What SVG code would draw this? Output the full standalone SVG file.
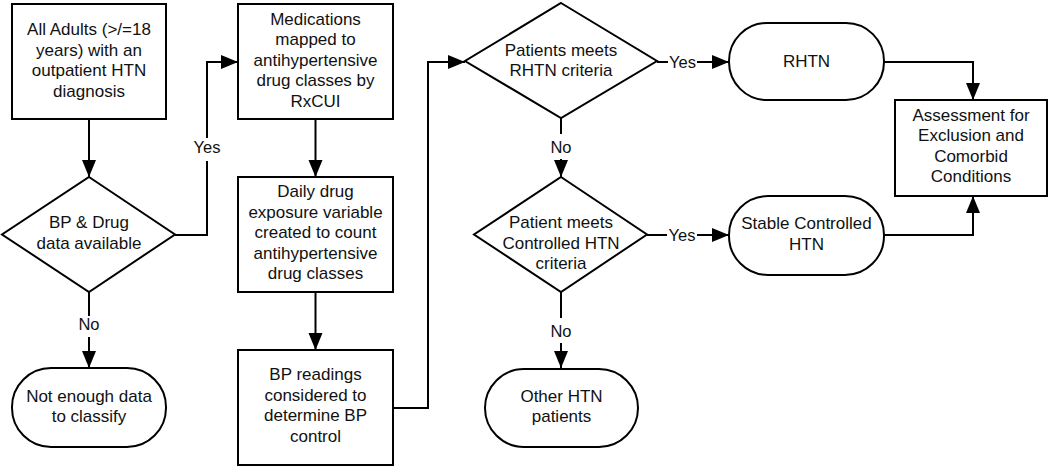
<svg xmlns="http://www.w3.org/2000/svg" width="1050" height="467" viewBox="0 0 1050 467">
<defs>
<style>
.n{fill:#fff;stroke:#000;stroke-width:2}
.t{font-family:"Liberation Sans",Arial,sans-serif;font-size:17px;fill:#111;text-anchor:middle}
.l{font-family:"Liberation Sans",Arial,sans-serif;font-size:16.5px;fill:#111;text-anchor:middle}
.c{fill:none;stroke:#000;stroke-width:2}
.bg{fill:#fff}
</style>
<marker id="ah" markerUnits="userSpaceOnUse" markerWidth="18" markerHeight="15" refX="17" refY="7" orient="auto">
<path d="M0,0 L17,7 L0,14 z" fill="#000"/>
</marker>
</defs>
<rect width="1050" height="467" fill="#fff"/>

<g id="connectors">
<path class="c" d="M89,119 V177" marker-end="url(#ah)"/>
<path class="c" d="M175,235 H207 V62 H238" marker-end="url(#ah)"/>
<path class="c" d="M89,292 V368" marker-end="url(#ah)"/>
<path class="c" d="M315.5,119 V177" marker-end="url(#ah)"/>
<path class="c" d="M315.5,292 V350" marker-end="url(#ah)"/>
<path class="c" d="M393,408 H428 V62 H465" marker-end="url(#ah)"/>
<path class="c" d="M657,62 H729" marker-end="url(#ah)"/>
<path class="c" d="M561,118 V177" marker-end="url(#ah)"/>
<path class="c" d="M647,235 H729" marker-end="url(#ah)"/>
<path class="c" d="M561,292 V368" marker-end="url(#ah)"/>
<path class="c" d="M884,62 H973 V100" marker-end="url(#ah)"/>
<path class="c" d="M884,235 H973 V196" marker-end="url(#ah)"/>
<rect class="bg" x="193" y="138" width="28" height="23"/>
<text class="l" x="207" y="153">Yes</text>
<rect class="bg" x="78" y="316" width="22" height="21"/>
<text class="l" x="89" y="330">No</text>
<rect class="bg" x="668" y="54" width="29" height="17"/>
<text class="l" x="682.5" y="68">Yes</text>
<rect class="bg" x="550" y="134" width="22" height="25"/>
<text class="l" x="561" y="153">No</text>
<rect class="bg" x="667" y="227" width="30" height="17"/>
<text class="l" x="682" y="241">Yes</text>
<rect class="bg" x="550" y="318" width="22" height="25"/>
<text class="l" x="561" y="337">No</text>
</g>

<g id="n1">
<rect class="n" x="12" y="4" width="154" height="115"/>
<text class="t" x="89" y="35">All Adults (&gt;/=18</text>
<text class="t" x="89" y="55.5">years) with an</text>
<text class="t" x="89" y="76">outpatient HTN</text>
<text class="t" x="89" y="96.5">diagnosis</text>
</g>

<g id="n2">
<polygon class="n" points="89,177 175,234.5 89,292 2,234.5"/>
<text class="t" x="89" y="228">BP &amp; Drug</text>
<text class="t" x="89" y="248.5">data available</text>
</g>

<g id="n3">
<rect class="n" x="12" y="368" width="154" height="79" rx="39" ry="39"/>
<text class="t" x="89" y="402">Not enough data</text>
<text class="t" x="89" y="422">to classify</text>
</g>

<g id="n4">
<rect class="n" x="238" y="4" width="155" height="115"/>
<text class="t" x="315.5" y="24.5">Medications</text>
<text class="t" x="315.5" y="45">mapped to</text>
<text class="t" x="315.5" y="65.5">antihypertensive</text>
<text class="t" x="315.5" y="86">drug classes by</text>
<text class="t" x="315.5" y="106.5">RxCUI</text>
</g>

<g id="n5">
<rect class="n" x="238" y="177" width="155" height="115"/>
<text class="t" x="315.5" y="197">Daily drug</text>
<text class="t" x="315.5" y="217.5">exposure variable</text>
<text class="t" x="315.5" y="238">created to count</text>
<text class="t" x="315.5" y="258.5">antihypertensive</text>
<text class="t" x="315.5" y="279">drug classes</text>
</g>

<g id="n6">
<rect class="n" x="238" y="350" width="155" height="115"/>
<text class="t" x="315.5" y="380">BP readings</text>
<text class="t" x="315.5" y="400.5">considered to</text>
<text class="t" x="315.5" y="421">determine BP</text>
<text class="t" x="315.5" y="441.5">control</text>
</g>

<g id="n7">
<polygon class="n" points="561,3 657,61 561,118 465,61"/>
<text class="t" x="561" y="55.5">Patients meets</text>
<text class="t" x="561" y="76">RHTN criteria</text>
</g>

<g id="n8">
<polygon class="n" points="561,177 647,234.5 561,292 474,234.5"/>
<text class="t" x="561" y="228">Patient meets</text>
<text class="t" x="561" y="248.5">Controlled HTN</text>
<text class="t" x="561" y="269">criteria</text>
</g>

<g id="n9">
<rect class="n" x="485" y="369" width="153" height="78" rx="39" ry="39"/>
<text class="t" x="561.5" y="402">Other HTN</text>
<text class="t" x="561.5" y="422">patients</text>
</g>

<g id="n10">
<rect class="n" x="729" y="23" width="155" height="77" rx="38" ry="38"/>
<text class="t" x="806.5" y="67">RHTN</text>
</g>

<g id="n11">
<rect class="n" x="729" y="196" width="155" height="79" rx="39" ry="39"/>
<text class="t" x="806.5" y="229">Stable Controlled</text>
<text class="t" x="806.5" y="249.5">HTN</text>
</g>

<g id="n12">
<rect class="n" x="895" y="100" width="152" height="96"/>
<text class="t" x="971" y="120.5">Assessment for</text>
<text class="t" x="971" y="141">Exclusion and</text>
<text class="t" x="971" y="161.5">Comorbid</text>
<text class="t" x="971" y="182">Conditions</text>
</g>
</svg>
